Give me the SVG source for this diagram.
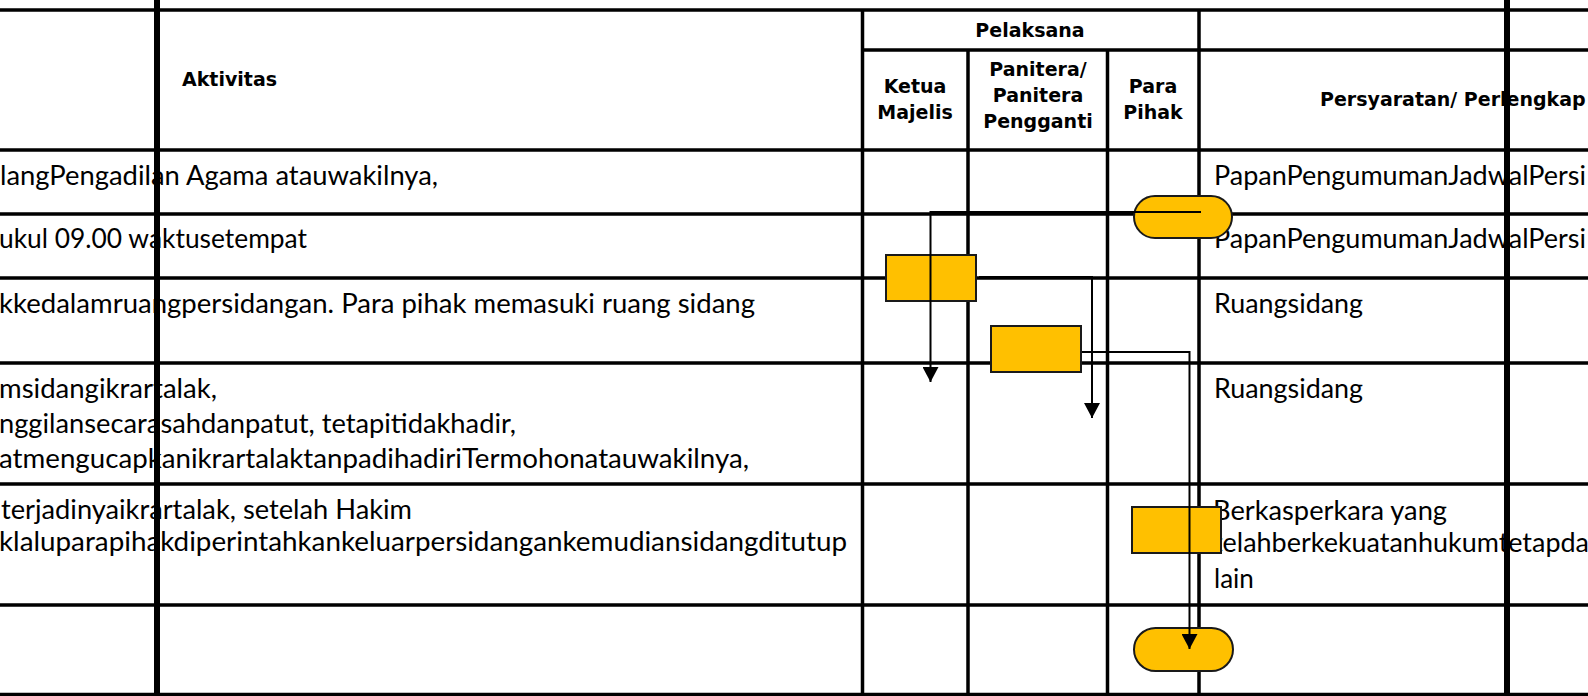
<svg xmlns="http://www.w3.org/2000/svg" width="1588" height="696" viewBox="0 0 1588 696">
<style>
.bg{fill:#fff}
.tx{font-family:Lato,"Liberation Sans",sans-serif;font-size:26px;fill:#000}
.hd{font-family:"DejaVu Sans","Liberation Sans",sans-serif;font-weight:bold;font-size:19px;fill:#000}
.hc{text-anchor:middle}
.g{stroke:#000;stroke-width:3.5;fill:none}
.gt{stroke:#000;stroke-width:6;fill:none}
.node{fill:#FFC000;stroke:#1a1a1a;stroke-width:2}
.conn{stroke:#000;stroke-width:2;fill:none}
</style>
<defs>
<marker id="arr" viewBox="0 0 15 16" refX="15" refY="8" markerWidth="15" markerHeight="16" markerUnits="userSpaceOnUse" orient="auto">
<path d="M0,0 L15,8 L0,16 z" fill="#000"/>
</marker>
</defs>
<rect class="bg" x="0" y="0" width="1588" height="696"/>
<g id="body-text">
<text class="tx" x="0" y="185" textLength="438" lengthAdjust="spacingAndGlyphs">langPengadilan Agama atauwakilnya,</text>
<text class="tx" x="-1" y="248" textLength="308" lengthAdjust="spacingAndGlyphs">ukul 09.00 waktusetempat</text>
<text class="tx" x="-1" y="313" textLength="756" lengthAdjust="spacingAndGlyphs">kkedalamruangpersidangan. Para pihak memasuki ruang sidang</text>
<text class="tx" x="-1" y="398" textLength="218" lengthAdjust="spacingAndGlyphs">msidangikrartalak,</text>
<text class="tx" x="-1" y="433" textLength="517" lengthAdjust="spacingAndGlyphs">nggilansecarasahdanpatut, tetapitidakhadir,</text>
<text class="tx" x="-1" y="468" textLength="750" lengthAdjust="spacingAndGlyphs">atmengucapkanikrartalaktanpadihadiriTermohonatauwakilnya,</text>
<text class="tx" x="1" y="519" textLength="411" lengthAdjust="spacingAndGlyphs">terjadinyaikrartalak, setelah Hakim</text>
<text class="tx" x="-1" y="551" textLength="848" lengthAdjust="spacingAndGlyphs">klaluparapihakdiperintahkankeluarpersidangankemudiansidangditutup</text>
<text class="tx" x="1214" y="185" textLength="372" lengthAdjust="spacingAndGlyphs">PapanPengumumanJadwalPersi</text>
<text class="tx" x="1214" y="248" textLength="372" lengthAdjust="spacingAndGlyphs">PapanPengumumanJadwalPersi</text>
<text class="tx" x="1214" y="313" textLength="149" lengthAdjust="spacingAndGlyphs">Ruangsidang</text>
<text class="tx" x="1214" y="398" textLength="149" lengthAdjust="spacingAndGlyphs">Ruangsidang</text>
<text class="tx" x="1213" y="520" textLength="234" lengthAdjust="spacingAndGlyphs">Berkasperkara yang</text>
<text class="tx" x="1213" y="552" textLength="376" lengthAdjust="spacingAndGlyphs">telahberkekuatanhukumtetapda</text>
<text class="tx" x="1214" y="588">lain</text>
</g>
<g id="header-text">
<text class="hd" x="182" y="86">Aktivitas</text>
<text class="hd hc" x="1030" y="37">Pelaksana</text>
<text class="hd hc" x="915" y="93">Ketua</text>
<text class="hd hc" x="915" y="119">Majelis</text>
<text class="hd hc" x="1038" y="76">Panitera/</text>
<text class="hd hc" x="1038" y="102">Panitera</text>
<text class="hd hc" x="1038" y="128">Pengganti</text>
<text class="hd hc" x="1153" y="93">Para</text>
<text class="hd hc" x="1153" y="119">Pihak</text>
<text class="hd" x="1320" y="106">Persyaratan/ Perlengkap</text>
</g>
<g id="grid">
<path class="g" d="M0,10H1588 M862,50H1588 M0,150H1588 M0,214H1588 M0,278H1588 M0,363H1588 M0,484H1588 M0,605H1588 M0,694.5H1588"/>
<path class="g" d="M862.5,10V696 M968,50V696 M1107.5,50V696 M1199,10V696"/>
<path class="gt" d="M157,0V696 M1507,0V696"/>
</g>
<g id="node-start"><rect class="node" x="1134" y="196" width="98" height="42" rx="21" ry="21"/></g>
<g id="node-ketua"><rect class="node" x="886" y="255" width="90" height="46"/></g>
<g id="node-panitera"><rect class="node" x="991" y="326" width="90" height="46"/></g>
<g id="node-pihak"><rect class="node" x="1132" y="507" width="89" height="46"/></g>
<g id="node-end"><rect class="node" x="1134" y="628" width="99" height="43" rx="21.5" ry="21.5"/></g>
<g id="connectors">
<polyline class="conn" points="1201,212 930.5,212 930.5,382" marker-end="url(#arr)"/>
<polyline class="conn" points="979,277 1092,277 1092,418" marker-end="url(#arr)"/>
<polyline class="conn" points="1082,352 1189.5,352 1189.5,649" marker-end="url(#arr)"/>
</g>
</svg>
